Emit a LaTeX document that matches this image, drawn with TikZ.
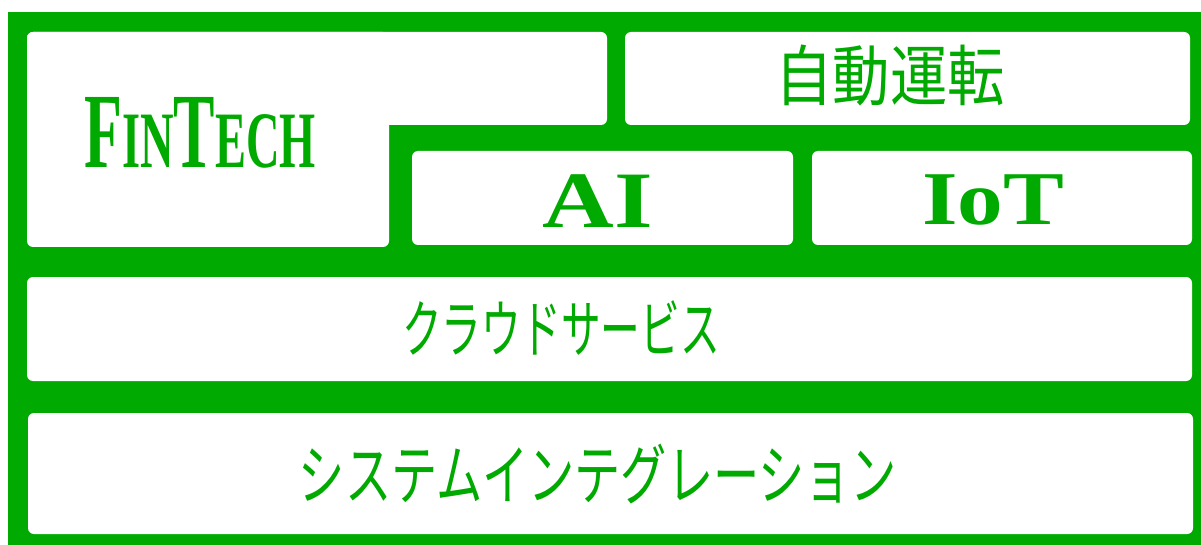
\documentclass[tikz,border=0pt]{standalone}
\usepackage{fontspec}
\usepackage{graphicx}
\setmainfont{Liberation Serif}
\newfontfamily\jp{Noto Sans CJK JP}
\definecolor{leaf}{RGB}{0,170,0}
\newcommand{\squeeze}[2]{\scalebox{#1}[1]{#2}}
\begin{document}
\begin{tikzpicture}[x=1pt,y=-1pt,
    panel/.style={fill=white,rounded corners=6pt,inner sep=0pt},
    word/.style={text=leaf,inner sep=0pt,anchor=base}]
  \useasboundingbox (0,0) rectangle (1201,545);
  \fill[leaf] (8,12) rectangle (1201,545);
  % FinTech block (L shape)
  \fill[white,rounded corners=6pt] (27,32) rectangle (607,125);
  \fill[white,rounded corners=6pt] (27,32) rectangle (389,247);
  \node[word] (fintech) at (200,168)
    {\bfseries\squeeze{0.58}{\fontsize{107}{107}\selectfont F\fontsize{80}{80}\selectfont IN\fontsize{107}{107}\selectfont T\fontsize{80}{80}\selectfont ECH}};
  % panels
  \node[panel,minimum width=565pt,minimum height=93pt] (jidou) at (907.5,78.5) {};
  \node[panel,minimum width=381pt,minimum height=94pt] (ai) at (602.5,198) {};
  \node[panel,minimum width=380pt,minimum height=94pt] (iot) at (1002,198) {};
  \node[panel,minimum width=1165pt,minimum height=104pt] (cloud) at (609.5,329) {};
  \node[panel,minimum width=1165pt,minimum height=121pt] (si) at (610.5,473.5) {};
  % texts
  \node[word] (jidoutext) at (890,101) {\jp\fontsize{66}{66}\selectfont\squeeze{0.87}{自動運転}};
  \node[word] (aitext) at (598,228) {\bfseries\fontsize{80}{80}\selectfont\squeeze{1.24}{AI}};
  \node[word] (iottext) at (993,225) {\bfseries\fontsize{76}{76}\selectfont\squeeze{1.2}{IoT}};
  \node[word] (cloudtext) at (561,352) {\jp\fontsize{63}{63}\selectfont\squeeze{0.63}{クラウドサービス}};
  \node[word] (sitext) at (598,499) {\jp\fontsize{66}{66}\selectfont\squeeze{0.70}{システムインテグレーション}};
\end{tikzpicture}
\end{document}
